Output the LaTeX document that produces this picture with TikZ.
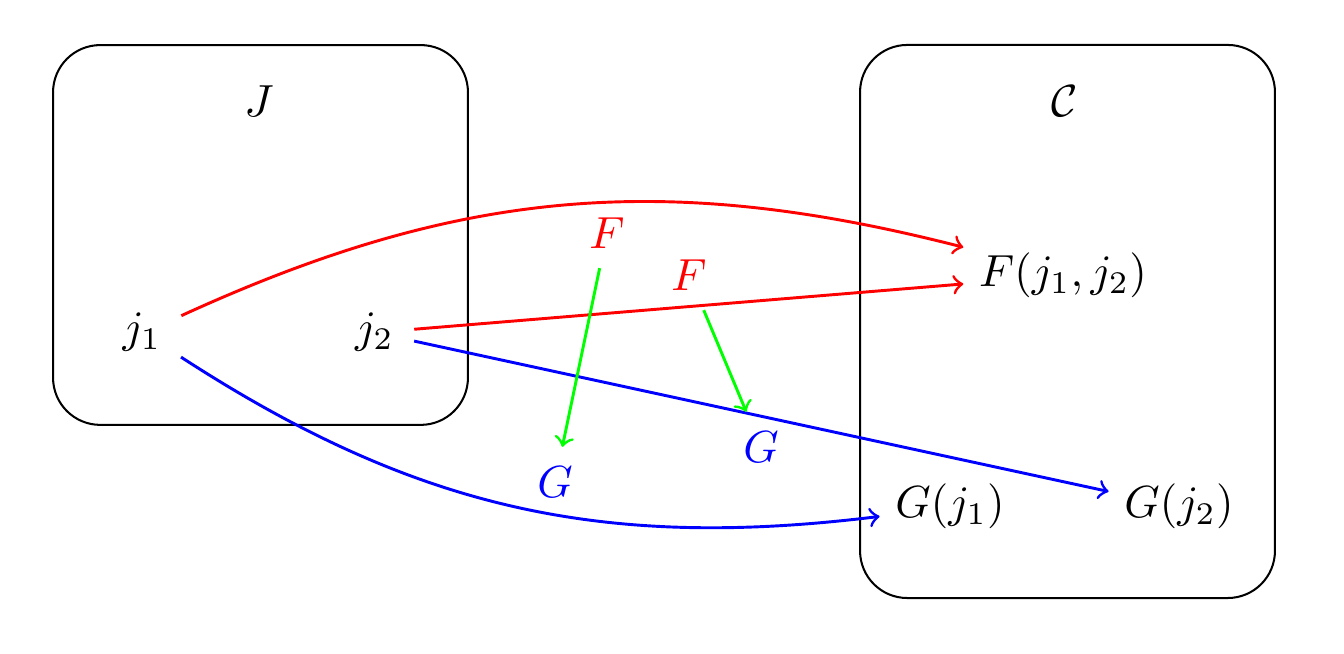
\documentclass[tikz,border=0pt]{standalone}
\usepackage{tikz}
\begin{document}
\begin{tikzpicture}[x=0.22222pt,y=-0.22222pt,
  boxstyle/.style={draw,line width=0.45pt,rounded corners=10.5pt,minimum width=92.2pt,inner sep=0pt},
  obj/.style={inner sep=3.33pt,anchor=base},
  lab/.style={inner sep=4.2pt},
  arr/.style={->,line width=0.65pt,shorten <=1pt},
  redarr/.style={arr,red},
  bluearr/.style={arr,blue},
  greenarr/.style={->,line width=0.65pt,green}]
\useasboundingbox (0,0) rectangle (1344,654);
% boxes
\node[boxstyle,minimum height=84.4pt] (boxJ) at (260.5,235) {};
\node[boxstyle,minimum height=122.9pt] (boxC) at (1067.5,321.5) {};
\node (Jlab) at (259,101) {$J$};
\node (Clab) at (1065,101) {$\mathcal{C}$};
% objects
\node[obj] (j1) at (142,343) {$j_1$};
\node[obj] (j2) at (374.5,343) {$j_2$};
\node[obj] (F12) at (1063,287) {$F(j_1,j_2)$};
\node[obj] (G1) at (950,518) {$G(j_1)$};
\node[obj] (G2) at (1179,518) {$G(j_2)$};
% labels
\node[lab,text=red] (Fa) at (607,233) {$F$};
\node[lab,text=red] (Fb) at (689,275) {$F$};
\node[lab,text=blue] (Ga) at (555,482) {$G$};
\node[lab,text=blue] (Gb) at (761,447) {$G$};
% arrows
\draw[redarr] (j1) to[bend left=19.5] (F12);
\draw[redarr] (j2) -- (F12);
\draw[bluearr] (j1) to[bend right=20] (G1);
\draw[bluearr] (j2) -- (G2);
\draw[greenarr] (Fa) -- (Ga);
\draw[greenarr] (Fb) -- (Gb);
\end{tikzpicture}
\end{document}
